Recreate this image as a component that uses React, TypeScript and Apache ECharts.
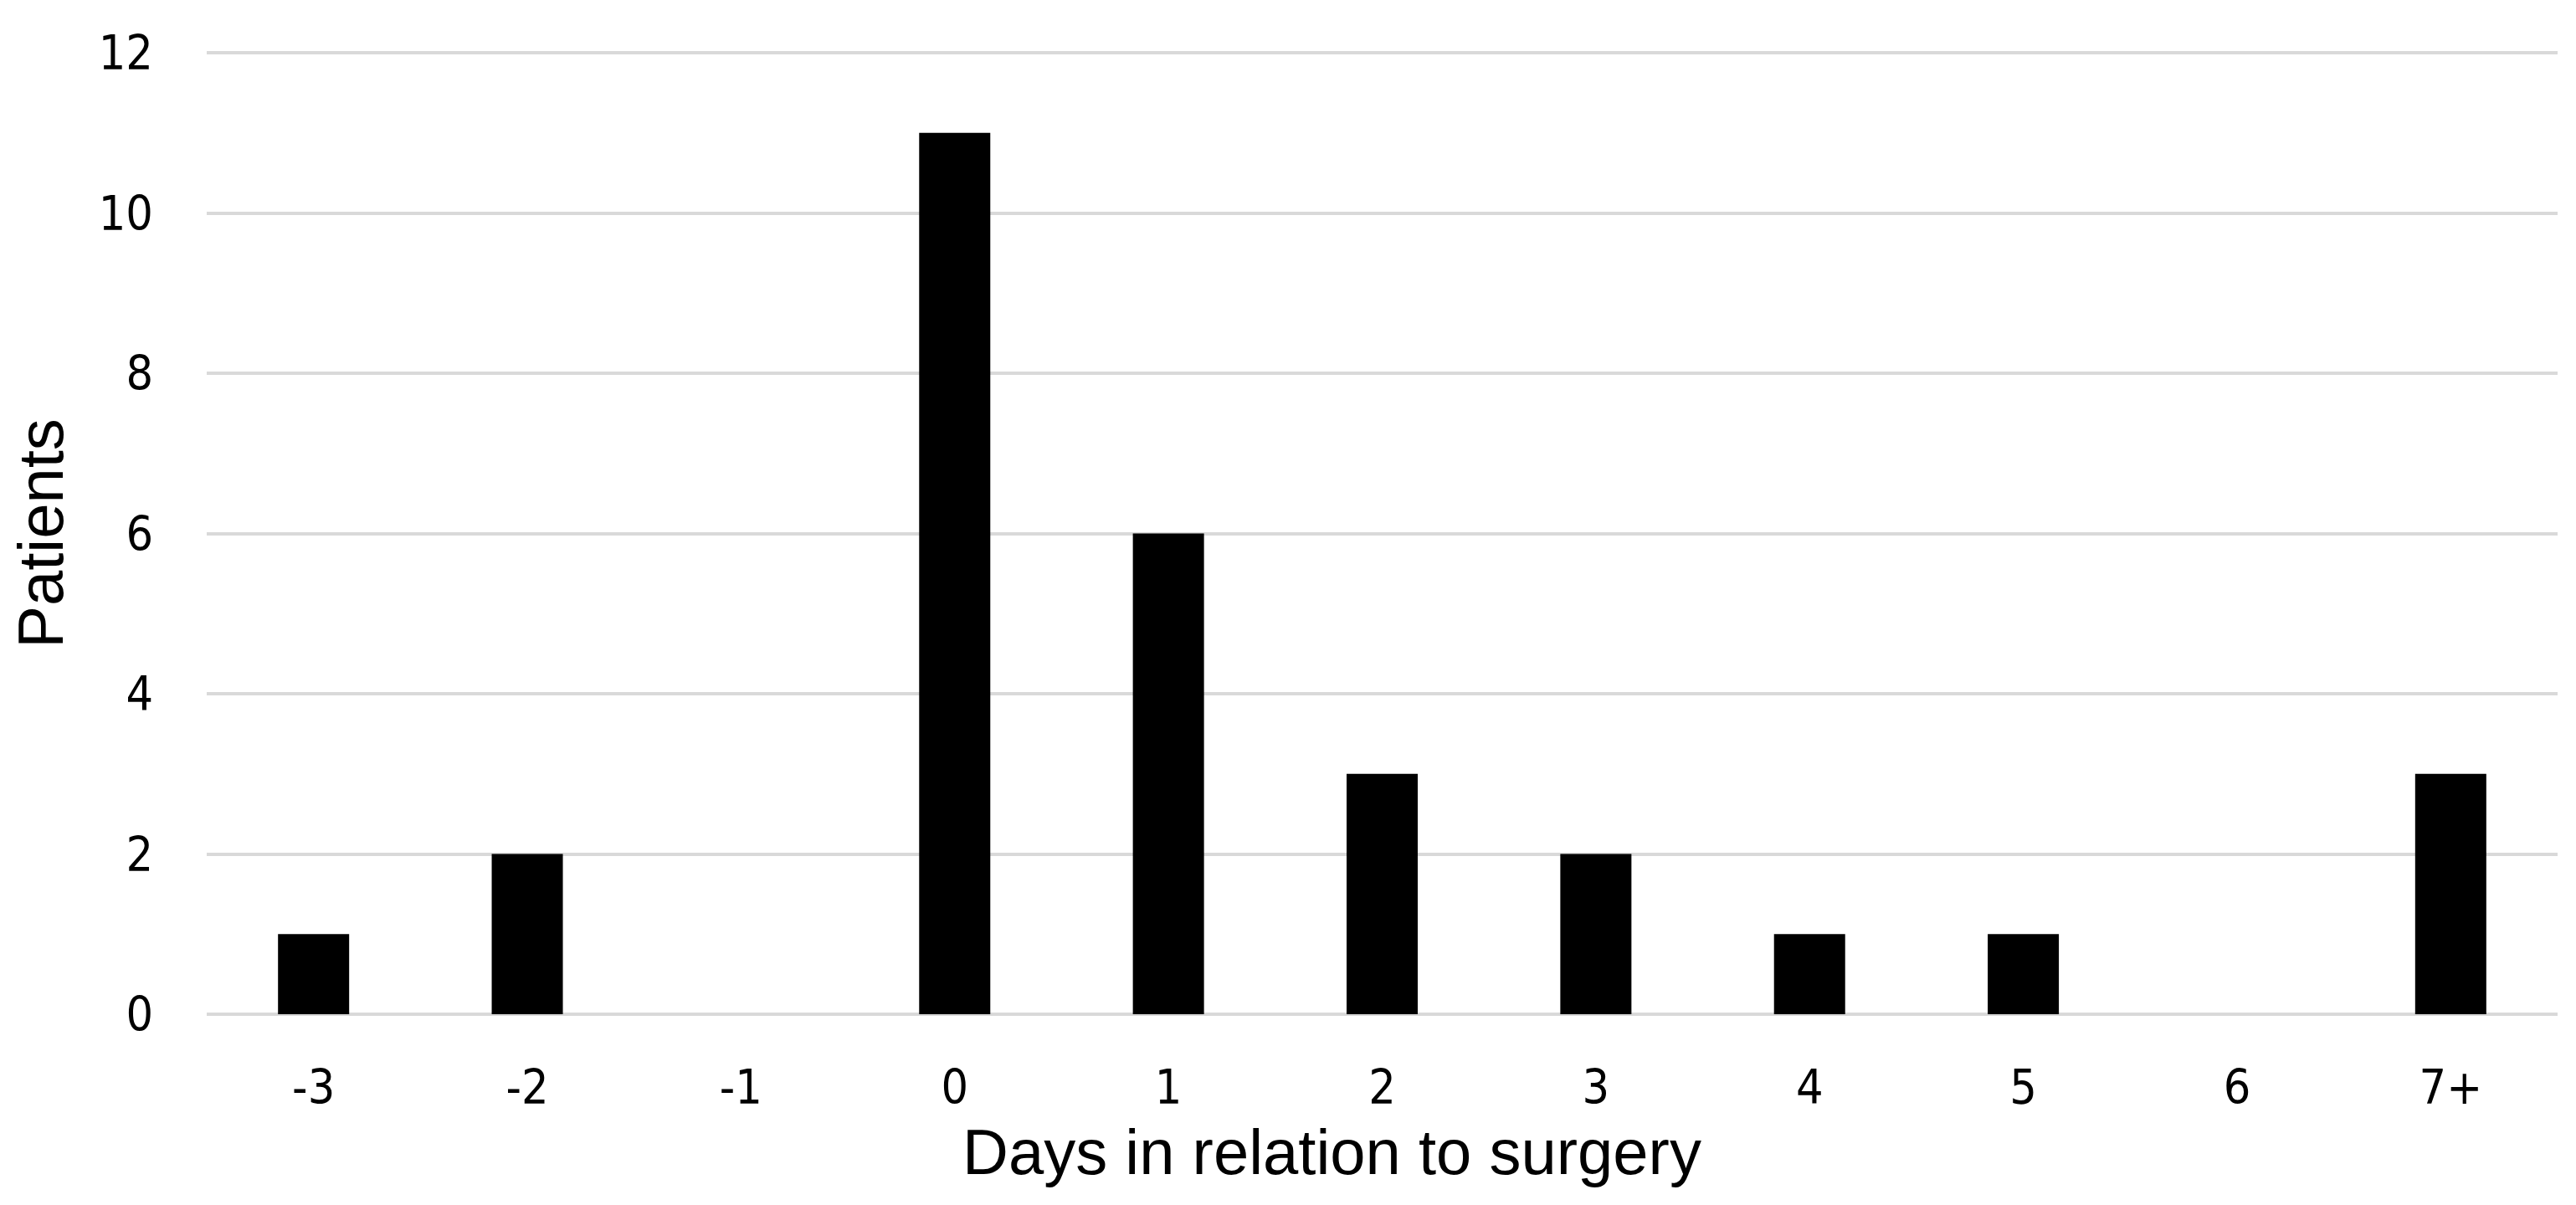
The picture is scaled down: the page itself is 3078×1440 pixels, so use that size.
import React, { useEffect, useRef } from "react";
import * as echarts from "echarts";

const categories = ["-3", "-2", "-1", "0", "1", "2", "3", "4", "5", "6", "7+"];
const patients = [1, 2, 0, 11, 6, 3, 2, 1, 1, 0, 3];
const yTicks = { min: 0, max: 12, interval: 2 };
const xTitle = "Days in relation to surgery";
const yTitle = "Patients";

const tickFont = "'DejaVu Sans Condensed', 'DejaVu Sans', sans-serif";
const titleFont = "'Liberation Sans', Arial, sans-serif";

export default function App() {
  const ref = useRef<HTMLDivElement>(null);
  useEffect(() => {
    if (!ref.current) return;
    const chart = echarts.init(ref.current, null, { renderer: "svg" });
    chart.setOption({
      animation: false,
      backgroundColor: "#ffffff",
      grid: { left: 247, right: 22, top: 63, bottom: 228, containLabel: false },
      xAxis: {
        type: "category",
        data: categories,
        axisLine: { show: false },
        axisTick: { show: false },
        axisLabel: {
          color: "#000",
          fontFamily: tickFont,
          fontSize: 57,
          margin: 58,
        },
        name: xTitle,
        nameLocation: "middle",
        nameGap: 126,
        nameTextStyle: {
          color: "#000",
          fontFamily: titleFont,
          fontSize: 76,
          padding: [0, 120, 0, 0],
        },
      },
      yAxis: {
        type: "value",
        min: yTicks.min,
        max: yTicks.max,
        interval: yTicks.interval,
        axisLine: { show: false },
        axisTick: { show: false },
        axisLabel: {
          color: "#000",
          fontFamily: tickFont,
          fontSize: 57,
          margin: 64,
        },
        splitLine: { show: true, lineStyle: { color: "#d9d9d9", width: 4 } },
        name: yTitle,
        nameLocation: "middle",
        nameGap: 161,
        nameTextStyle: {
          color: "#000",
          fontFamily: titleFont,
          fontSize: 76,
        },
      },
      series: [
        {
          type: "bar",
          data: patients,
          barWidth: 85,
          itemStyle: { color: "#000000" },
        },
      ],
    });
    return () => chart.dispose();
  }, []);
  return (
    <div
      ref={ref}
      style={{ position: "fixed", left: 0, top: 0, width: 3078, height: 1440 }}
    />
  );
}
